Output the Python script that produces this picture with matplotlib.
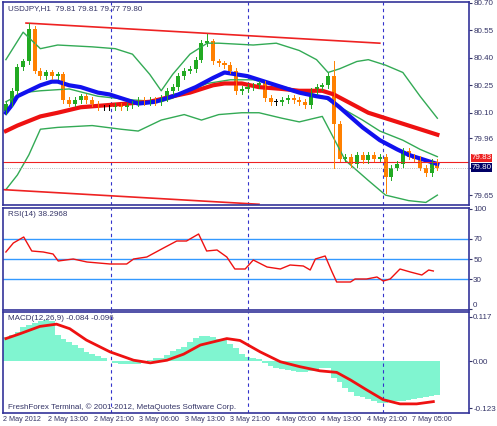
import matplotlib
matplotlib.use("Agg")
import matplotlib.pyplot as plt
import numpy as np

plt.rcParams['font.family'] = ['Liberation Sans', 'DejaVu Sans']

closes = [80.15,80.22,80.35,80.38,80.56,80.33,80.30,80.32,80.30,80.31,
          80.17,80.15,80.17,80.19,80.17,80.15,80.13,80.13,80.13,80.14,
          80.13,80.14,80.15,80.17,80.16,80.17,80.16,80.18,80.22,80.24,
          80.30,80.33,80.34,80.39,80.48,80.49,80.38,80.37,80.36,80.33,
          80.22,80.23,80.24,80.25,80.26,80.18,80.16,80.16,80.17,80.18,
          80.17,80.16,80.14,80.22,80.24,80.25,80.30,80.04,79.85,79.86,
          79.82,79.87,79.84,79.87,79.85,79.86,79.75,79.80,79.82,79.89,
          79.86,79.85,79.80,79.77,79.83,79.80]
opens = [80.11] + closes[:-1]

blue_x = [0,1,2,4,6,8,9,11,13,16,18,21,23,26,28,30,33,36,38,40,42,44,48,51,54,56,58,62,65,68,70,73,75]
blue_y = [80.10,80.14,80.19,80.22,80.25,80.27,80.27,80.25,80.24,80.21,80.20,80.17,80.15,80.16,80.18,80.20,
          80.24,80.29,80.32,80.31,80.30,80.28,80.24,80.21,80.19,80.18,80.13,80.02,79.95,79.90,79.87,79.84,79.82]
red_x = [0,2,6,9,13,17,21,25,29,32,36,38,41,44,48,51,55,57,60,63,67,70,75]
red_y = [80.00,80.03,80.08,80.10,80.13,80.14,80.15,80.16,80.19,80.21,80.25,80.26,80.26,80.24,80.23,80.22,
         80.22,80.20,80.15,80.10,80.06,80.03,79.98]
bbu_x = [0,1,3,6,9,15,19,22,25,27,29,32,35,37,43,47,51,54,56,58,61,63,66,69,72,75]
bbu_y = [80.39,80.44,80.54,80.45,80.47,80.46,80.45,80.42,80.31,80.22,80.31,80.42,80.48,80.48,80.47,80.48,
         80.44,80.39,80.32,80.34,80.38,80.39,80.36,80.32,80.19,80.07]
bbm_x = [0,3,6,11,16,22,27,29,32,35,39,43,46,51,55,57,62,65,69,72,75]
bbm_y = [80.16,80.21,80.22,80.23,80.19,80.17,80.16,80.18,80.22,80.26,80.28,80.28,80.26,80.22,80.19,80.15,
         80.06,80.00,79.95,79.90,79.86]
bbl_x = [0,2,4,6,9,15,20,23,27,31,34,37,41,44,48,51,55,56,59,63,66,70,73,75]
bbl_y = [79.68,79.76,79.87,80.01,80.02,80.03,80.01,80.00,80.06,80.09,80.06,80.09,80.10,80.10,80.07,80.05,
         80.08,80.02,79.84,79.73,79.65,79.62,79.61,79.65]
rsi_x = [0,1.3,3.1,4.5,6.5,8.2,9.1,11.7,14.1,18.1,21,22.2,24.5,27.4,29.7,31.4,33.5,34.9,36.7,38.4,39.8,
         41.6,43,45.4,47.7,49.4,51.7,52.9,53.8,55.5,56.7,57.5,59.9,60.7,62.7,64.5,65.6,66.8,68.5,70.3,72.3,73.5,74.3]
rsi_y = [57,66,72,58,57,55,48,50,47,45,45,50,52,61,68,68,75,58,59,52,40,40,49,42,40,44,43,39,50,53,37,27,
         27,30,30,32,28,30,40,37,34,39,38]
macd_hist = [0.064,0.070,0.078,0.090,0.095,0.100,0.105,0.108,0.105,0.070,0.060,0.050,0.042,0.034,0.024,0.020,
             0.015,0.010,0.002,-0.004,-0.006,-0.008,-0.008,-0.007,-0.005,0.003,0.008,0.010,0.018,0.026,0.033,
             0.039,0.050,0.062,0.067,0.066,0.064,0.060,0.055,0.045,0.035,0.020,0.012,0.010,0.006,-0.005,-0.012,
             -0.018,-0.021,-0.024,-0.025,-0.027,-0.028,-0.026,-0.022,-0.017,-0.018,-0.045,-0.055,-0.070,-0.080,
             -0.090,-0.095,-0.098,-0.104,-0.110,-0.110,-0.106,-0.104,-0.104,-0.102,-0.099,-0.096,-0.093,-0.090,-0.088]
sig_x = [0,2.5,5.9,8.8,11.1,14.0,18.1,22.2,25.1,28.0,30.9,33.8,38.4,40.7,44.2,47.7,51.1,54.6,57.5,59.9,62.7,
         65.6,68.5,71.4,74.3]
sig_y = [0.060,0.073,0.092,0.098,0.086,0.056,0.025,0.003,-0.004,0.003,0.019,0.043,0.060,0.055,0.025,-0.001,
         -0.014,-0.025,-0.029,-0.049,-0.075,-0.101,-0.112,-0.112,-0.106]
tick_labels = ["2 May 2012","2 May 13:00","2 May 21:00","3 May 06:00","3 May 13:00",
               "3 May 21:00","4 May 05:00","4 May 13:00","4 May 21:00","7 May 05:00"]
vlines = [18.2, 42.0, 65.6]
upper_trend = [(3.5, 80.59), (65, 80.48)]
lower_trend = [(-0.5, 79.68), (44, 79.60)]

o = np.array(opens); cl = np.array(closes)
hi = np.maximum(o, cl) + 0.015
lo = np.minimum(o, cl) - 0.015
hi[57] = 80.38; lo[57] = 79.80; hi[4] = 80.59; hi[35] = 80.53; lo[66] = 79.66
n = len(closes); x = np.arange(n)

fig = plt.figure(figsize=(4.97, 4.26), dpi=100)
W, H = 497, 426
def ax_at(y0, y1):
    return fig.add_axes([3/W, 1-y1/H, 466/W, (y1-y0)/H])
navy = "#333399"; tc = "#333366"; fs = 5.8
a1 = ax_at(2, 205); a2 = ax_at(208, 310); a3 = ax_at(312, 413)
for a in (a1, a2, a3):
    a.set_xlim(-0.5, 80.5)
    for s in a.spines.values(): s.set_color(navy); s.set_linewidth(1.2)
    a.yaxis.tick_right()
    a.tick_params(axis='y', labelsize=fs, colors=tc, length=2, pad=1)
    a.tick_params(axis='x', length=0)
    a.set_xticks([])
    for v in vlines: a.axvline(v, color="#3333cc", ls=(0,(3,3)), lw=0.8)

a1.set_ylim(79.596, 80.705)
a1.set_yticks([80.70,80.55,80.40,80.25,80.10,79.96,79.80,79.65])
a1.set_yticklabels(["80.70","80.55","80.40","80.25","80.10","79.96","","79.65"])
g = "#33aa55"
a1.plot(bbu_x, bbu_y, color=g, lw=1); a1.plot(bbl_x, bbl_y, color=g, lw=1); a1.plot(bbm_x, bbm_y, color=g, lw=1)
a1.plot(red_x, red_y, color="#ee1111", lw=3, solid_joinstyle="round")
a1.plot(blue_x, blue_y, color="#1111ee", lw=3, solid_joinstyle="round")
for xs in (upper_trend, lower_trend):
    a1.plot([xs[0][0], xs[1][0]], [xs[0][1], xs[1][1]], color="#ee2222", lw=1.2)
a1.axhline(79.83, color="#ee2222", lw=0.8)
a1.axhline(79.80, color="#aaaaaa", lw=0.6, ls=":")
for i in range(n):
    col = "#22aa22" if cl[i] > o[i] + 0.003 else ("#ff8000" if cl[i] < o[i] - 0.003 else "black")
    a1.plot([i, i], [lo[i], hi[i]], color=col, lw=0.7)
    a1.bar(i, max(abs(cl[i]-o[i]), 0.003), bottom=min(o[i], cl[i]), width=0.7, color=col, lw=0)
a1.text(1.005, 79.835, "79.83", transform=a1.get_yaxis_transform(), color="white", fontsize=fs, va="bottom",
        bbox=dict(fc="#ee2222", ec="none", pad=0.5))
a1.text(1.005, 79.80, "79.80", transform=a1.get_yaxis_transform(), color="white", fontsize=fs, va="center",
        bbox=dict(fc="#000066", ec="none", pad=0.5))
a1.text(0.01, 0.985, "USDJPY,H1  79.81 79.81 79.77 79.80", transform=a1.transAxes, fontsize=fs, color=tc, va="top")

a2.set_ylim(-1, 101)
a2.set_yticks([100, 70, 50, 30, 0])
a2.set_yticklabels(["100", "70", "50", "30", "0"])
a2.get_yticklabels()[-1].set_va("bottom")
for lv in (30, 50, 70): a2.axhline(lv, color="#3399ff", lw=1)
a2.plot(rsi_x, rsi_y, color="#ee1111", lw=1)
a2.text(0.01, 0.97, "RSI(14) 38.2968", transform=a2.transAxes, fontsize=fs, color=tc, va="top")

a3.set_ylim(-0.136, 0.130)
a3.set_yticks([0.117, 0.0, -0.123]); a3.set_yticklabels(["0.117", "0.00", "-0.123"])
a3.bar(x, macd_hist, width=1.0, color="#80f5d0", lw=0)
a3.plot(sig_x, sig_y, color="#ee1111", lw=2)
a3.text(0.01, 0.97, "MACD(12,26,9) -0.084 -0.096", transform=a3.transAxes, fontsize=fs, color=tc, va="top")
a3.text(0.01, 0.02, "FreshForex Terminal, \u00a9 2001-2012, MetaQuotes Software Corp.", transform=a3.transAxes,
        fontsize=fs, color=tc, va="bottom")
a3.set_xticks(np.arange(len(tick_labels)) * 7.9 - 0.5)
a3.set_xticklabels(tick_labels, fontsize=5.2, color=tc, ha="left")
a3.tick_params(axis='x', pad=2)
fig.savefig("out.png", dpi=100)
